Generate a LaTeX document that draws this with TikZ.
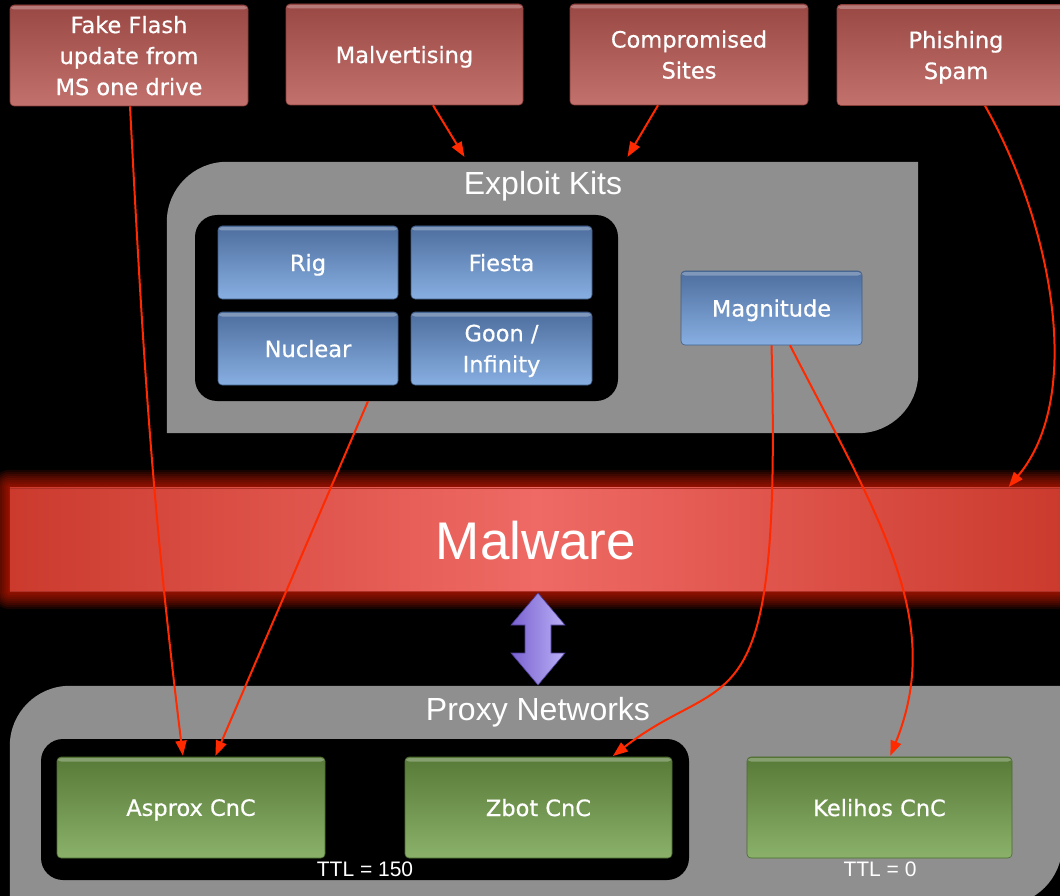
\documentclass[tikz,border=0pt]{standalone}
\usepackage{fontspec}
\setmainfont[FakeBold=0.6]{DejaVu Sans}
\newfontfamily\titlefont{Liberation Sans}
\usetikzlibrary{arrows.meta}

\definecolor{redTop}{HTML}{9A4844}
\definecolor{redBot}{HTML}{C3716D}
\definecolor{redEdge}{HTML}{8A3E3A}
\definecolor{blueTop}{HTML}{4D6E9E}
\definecolor{blueBot}{HTML}{88AFE2}
\definecolor{blueEdge}{HTML}{3F5C86}
\definecolor{greenTop}{HTML}{587A38}
\definecolor{greenBot}{HTML}{8AB169}
\definecolor{greenEdge}{HTML}{4A6A2E}
\definecolor{panelgray}{HTML}{8F8F8F}
\definecolor{bandEdge}{HTML}{CB3A2D}
\definecolor{bandMid}{HTML}{EF6A65}
\definecolor{glowred}{HTML}{FF2200}
\definecolor{linkred}{HTML}{FF2A00}
\definecolor{purpleL}{HTML}{7A62D0}
\definecolor{purpleR}{HTML}{BAB0F6}
\definecolor{purpleEdge}{HTML}{4E3D99}

\newcommand\bxfont{\fontsize{22.5}{31}\selectfont}
\newcommand\ttlfont{\titlefont\fontsize{32}{36}\selectfont}

\begin{document}
\begin{tikzpicture}[x=1pt,y=-1pt,
  box/.style={rounded corners=4pt, inner sep=0pt, align=center, text=white,
    font=\bxfont, line width=0.6pt, text depth=0pt,
    path picture={\fill[white,opacity=0.28]
      ([yshift=-1pt]path picture bounding box.north west) rectangle
      ([yshift=-4.5pt]path picture bounding box.north east);}},
  redbox/.style={box, top color=redTop, bottom color=redBot, draw=redEdge},
  bluebox/.style={box, top color=blueTop, bottom color=blueBot, draw=blueEdge},
  greenbox/.style={box, top color=greenTop, bottom color=greenBot, draw=greenEdge},
  holder/.style={inner sep=0pt},
  group/.style={holder, fill=black, rounded corners=22pt},
  title/.style={text=white, font=\ttlfont, inner sep=0pt, text depth=0pt},
  ttl/.style={text=white, font=\titlefont\fontsize{21}{24}\selectfont, inner sep=0pt},
  link/.style={draw=linkred, line width=2pt,
    -{Triangle[length=15pt,width=11pt]}, shorten >=1pt}
]
\useasboundingbox (0,0) rectangle (1060,896);
\clip (0,0) rectangle (1060,896);
\fill[black] (0,0) rectangle (1060,896);

% ---- panel holders ----
\node[holder, minimum width=751pt, minimum height=271pt] (ek) at (542.5,297.5) {};
\node[holder, minimum width=1052pt, minimum height=219pt] (proxy) at (536,795.5) {};

% Exploit Kits panel: round top-left and bottom-right corners
\fill[panelgray] (ek.south west) -- ([yshift=-60pt]ek.north west)
  arc[start angle=180,end angle=90,radius=60pt] -- (ek.north east)
  -- ([yshift=60pt]ek.south east)
  arc[start angle=0,end angle=-90,radius=60pt] -- cycle;

% Proxy Networks panel
\fill[panelgray] (proxy.south west) -- ([yshift=-60pt]proxy.north west)
  arc[start angle=180,end angle=90,radius=60pt] -- (proxy.north east)
  -- ([yshift=60pt]proxy.south east)
  arc[start angle=0,end angle=-90,radius=60pt] -- cycle;

% ---- dark group trays ----
\node[group, minimum width=423pt, minimum height=186pt] (ekgroup) at (406.5,308) {};
\node[group, minimum width=648pt, minimum height=141pt] (pxgroup) at (365,809.5) {};

% ---- titles ----
\node[title] (ektitle) at (543,183) {Exploit Kits};
\node[title] (pxtitle) at (538,709) {Proxy Networks};

% ---- sources ----
\node[redbox, minimum width=238pt, minimum height=101pt] (fake) at (129,55.5)
  {Fake Flash\\update from\\MS one drive};
\node[redbox, minimum width=237pt, minimum height=101pt] (malv) at (404.5,54.5)
  {Malvertising};
\node[redbox, minimum width=238pt, minimum height=101pt] (comp) at (689,54.5)
  {Compromised\\Sites};
\node[redbox, minimum width=238pt, minimum height=101pt] (phish) at (956,55)
  {Phishing\\Spam};

% ---- exploit kits ----
\node[bluebox, minimum width=180pt, minimum height=73pt] (rig) at (308,262.5) {Rig};
\node[bluebox, minimum width=181pt, minimum height=73pt] (fiesta) at (501.5,262.5) {Fiesta};
\node[bluebox, minimum width=180pt, minimum height=73pt] (nuclear) at (308,348.5) {Nuclear};
\node[bluebox, minimum width=181pt, minimum height=73pt] (goon) at (501.5,348.5) {Goon /\\Infinity};
\node[bluebox, minimum width=181pt, minimum height=74pt] (magn) at (771.5,308) {Magnitude};

% ---- CnC servers ----
\node[greenbox, minimum width=268pt, minimum height=101pt] (asprox) at (191,807.5) {Asprox CnC};
\node[greenbox, minimum width=267pt, minimum height=101pt] (zbot) at (538.5,807.5) {Zbot CnC};
\node[greenbox, minimum width=265pt, minimum height=101pt] (kelihos) at (879.5,807.5) {Kelihos CnC};
\node[ttl] (ttlA) at (365,869) {TTL = 150};
\node[ttl] (ttlB) at (880,869) {TTL = 0};

% ---- malware band with glow ----
\node[holder, minimum width=1052pt, minimum height=103pt] (malware) at (536,539.5) {};
\foreach \g in {18,16,...,2}
  \fill[glowred, opacity=0.09, rounded corners=\g pt]
    ([xshift=-\g pt, yshift=\g pt]malware.north west) rectangle
    ([xshift=\g pt, yshift=-\g pt]malware.south east);
\fill[left color=bandEdge, right color=bandEdge, middle color=bandMid]
  (malware.north west) rectangle (malware.south east);
\draw[bandEdge!85!black, line width=0.6pt] (malware.north west) -- (malware.north east)
  (malware.south west) -- (malware.south east);
\node[text=white, font=\titlefont\fontsize{53}{60}\selectfont, inner sep=0pt]
  (mwtext) at (536,541) {Malware};

% ---- two-way link between malware and proxy networks ----
\fill[left color=purpleL, right color=purpleR, draw=purpleEdge, line width=0.6pt]
  (538,593) -- (565,625) -- (551,625) -- (551,653) -- (565,653) -- (538,685)
  -- (511,653) -- (525,653) -- (525,625) -- (511,625) -- cycle;

% ---- infection paths ----
\draw[link] ([xshift=1pt]fake.south) to[out=-87,in=97] ([xshift=-8pt]asprox.north);
\draw[link] ([xshift=28.5pt]malv.south) -- ([xshift=-77.5pt,yshift=4pt]ek.north);
\draw[link] ([xshift=-31pt]comp.south) -- ([xshift=84.5pt,yshift=4pt]ek.north);
\draw[link] ([xshift=29pt]phish.south) .. controls (1050,220) and (1086,395)
  .. ([xshift=472pt]malware.north);
\draw[link] ([xshift=-38.5pt]ekgroup.south) -- ([xshift=24pt]asprox.north);
\draw[link] (magn.south) .. controls (782,740) and (730,665)
  .. ([xshift=73.5pt]zbot.north);
\draw[link] ([xshift=18.5pt]magn.south) .. controls (880,520) and (945,620)
  .. ([xshift=10.5pt]kelihos.north);
\end{tikzpicture}
\end{document}
